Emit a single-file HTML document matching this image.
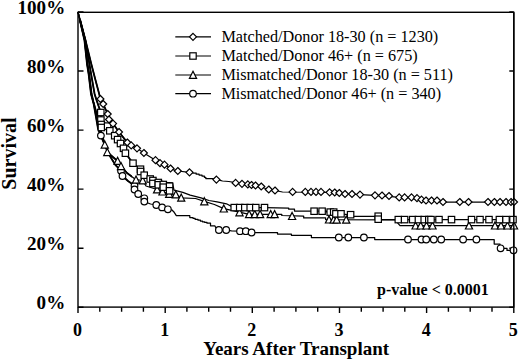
<!DOCTYPE html>
<html><head><meta charset="utf-8"><style>
html,body{margin:0;padding:0;background:#fff;width:520px;height:360px;overflow:hidden}
svg{display:block;font-family:"Liberation Serif",serif}
</style></head><body>
<svg width="520" height="360" viewBox="0 0 520 360"><g fill="none" stroke="#000" stroke-width="1.4">
<rect x="78.0" y="12.3" width="435.8" height="294.8"/>
<path d="M78.0 12.0H83.5M513.8 12.0H509.3M78.0 71.0H83.5M513.8 71.0H509.3M78.0 130.1H83.5M513.8 130.1H509.3M78.0 189.1H83.5M513.8 189.1H509.3M78.0 248.2H83.5M513.8 248.2H509.3M78.0 307.2H83.5M513.8 307.2H509.3M78.0 307.2V313.0M99.8 307.2V311.8M121.6 307.2V311.8M143.4 307.2V311.8M165.2 307.2V313.0M186.9 307.2V311.8M208.7 307.2V311.8M230.5 307.2V311.8M252.3 307.2V313.0M274.1 307.2V311.8M295.9 307.2V311.8M317.7 307.2V311.8M339.5 307.2V313.0M361.3 307.2V311.8M383.1 307.2V311.8M404.8 307.2V311.8M426.6 307.2V313.0M448.4 307.2V311.8M470.2 307.2V311.8M492.0 307.2V311.8M513.8 307.2V313.0"/>
</g>
<g fill="none" stroke="#000" stroke-width="1.25" stroke-linejoin="round">
<polyline points="78.0,12.0 84.4,40.0 87.0,64.0 88.6,74.0 91.0,94.0 93.7,104.0 98.1,129.0 100.9,135.6 103.0,141.0 109.7,155.7 115.6,165.2 121.0,170.7 122.5,176.0 128.0,181.0 134.5,185.7 134.5,189.5 138.2,194.0 144.3,198.3 144.3,201.6 150.6,204.0 156.3,205.0 162.1,207.4 167.9,209.3 171.7,209.8 173.7,211.7 176.3,215.7 189.8,215.7 189.8,217.6 193.0,217.6 193.0,218.3 195.1,218.3 195.1,219.3 198.0,219.3 198.0,220.2 200.4,220.2 200.4,221.0 202.5,221.0 202.5,221.8 204.7,221.8 204.7,222.4 207.0,222.4 207.0,223.2 210.5,223.2 210.5,225.8 214.8,225.8 216.0,228.0 218.9,230.0 226.2,230.0 231.5,230.8 240.0,231.2 245.8,231.2 251.6,232.5 277.5,232.6 277.5,234.1 291.4,234.1 291.4,235.3 311.4,235.3 311.4,237.5 374.7,237.5 374.7,239.5 494.2,239.5 494.2,244.1 500.0,244.1 500.0,248.4 507.0,248.4 507.0,250.4 514.0,250.4"/>
<polyline points="78.0,12.0 84.8,40.0 87.5,64.0 89.2,74.0 91.6,94.0 93.5,102.0 97.0,115.0 100.0,128.0 103.0,138.0 104.8,144.7 106.0,147.0 107.3,152.2 117.6,161.0 121.0,166.2 127.0,173.0 136.0,179.7 142.7,180.5 146.0,186.0 157.1,189.5 162.5,191.6 169.2,194.0 175.8,194.5 181.2,197.8 195.6,198.5 204.3,201.4 214.4,204.5 223.8,208.6 239.5,212.2 249.1,214.3 281.8,214.3 281.8,215.5 303.7,216.2 303.7,217.9 325.6,217.9 325.6,219.6 395.0,219.8 400.0,225.6 514.0,225.6"/>
<polyline points="78.0,12.0 85.3,40.0 88.7,60.0 91.1,74.0 94.6,94.0 96.5,100.0 100.8,112.5 101.2,120.0 107.6,126.1 109.8,130.8 114.7,135.7 117.6,139.6 120.5,143.5 123.5,148.3 125.4,153.2 133.0,163.2 140.5,169.2 140.5,171.5 144.2,175.2 150.2,176.5 152.5,179.0 156.2,180.0 160.4,180.8 166.7,182.4 172.5,182.8 174.0,190.2 182.8,192.4 190.2,195.1 201.0,197.8 209.0,200.5 217.1,201.8 226.5,203.8 233.7,207.6 265.4,207.6 288.7,208.1 288.7,209.2 294.5,209.2 294.5,211.1 326.7,211.2 326.7,212.1 336.0,212.1 340.0,213.8 348.0,214.7 352.0,216.4 378.0,216.4 380.0,219.6 514.0,219.6"/>
<polyline points="78.0,12.0 85.4,40.0 91.3,64.0 95.2,79.0 99.2,94.0 100.4,99.0 103.2,104.0 107.7,114.0 109.0,119.5 113.0,123.6 119.0,132.0 127.3,142.5 131.2,145.4 137.0,148.3 143.9,153.0 155.5,160.2 160.0,163.2 164.5,164.7 170.5,168.5 175.7,170.7 177.8,171.0 189.5,172.3 193.8,173.2 196.2,173.2 196.2,174.2 199.1,174.2 199.1,175.1 202.0,175.1 202.0,176.1 204.4,176.1 204.4,177.3 205.8,177.3 205.8,178.5 213.0,178.5 216.4,179.6 220.2,180.4 222.5,181.0 228.9,181.5 235.2,182.7 242.1,183.8 247.3,184.5 252.0,185.0 255.4,185.5 261.0,187.0 268.8,189.5 275.0,190.5 282.5,192.0 329.0,192.3 339.0,193.0 345.0,194.0 360.0,194.6 375.0,195.3 389.0,196.3 399.0,197.4 411.0,197.4 417.0,198.2 421.5,199.7 426.0,200.5 437.0,200.5 443.0,202.0 514.0,202.0"/>
</g>
<clipPath id="steep"><rect x="78" y="20" width="54.0" height="200"/></clipPath>
<g fill="none" stroke="#000" stroke-width="1.80" stroke-linejoin="round" clip-path="url(#steep)">
<polyline points="78.0,12.0 84.4,40.0 87.0,64.0 88.6,74.0 91.0,94.0 93.7,104.0 98.1,129.0 100.9,135.6 103.0,141.0 109.7,155.7 115.6,165.2 121.0,170.7 122.5,176.0 128.0,181.0 134.5,185.7 134.5,189.5 138.2,194.0 144.3,198.3 144.3,201.6 150.6,204.0 156.3,205.0 162.1,207.4 167.9,209.3 171.7,209.8 173.7,211.7 176.3,215.7 189.8,215.7 189.8,217.6 193.0,217.6 193.0,218.3 195.1,218.3 195.1,219.3 198.0,219.3 198.0,220.2 200.4,220.2 200.4,221.0 202.5,221.0 202.5,221.8 204.7,221.8 204.7,222.4 207.0,222.4 207.0,223.2 210.5,223.2 210.5,225.8 214.8,225.8 216.0,228.0 218.9,230.0 226.2,230.0 231.5,230.8 240.0,231.2 245.8,231.2 251.6,232.5 277.5,232.6 277.5,234.1 291.4,234.1 291.4,235.3 311.4,235.3 311.4,237.5 374.7,237.5 374.7,239.5 494.2,239.5 494.2,244.1 500.0,244.1 500.0,248.4 507.0,248.4 507.0,250.4 514.0,250.4"/>
<polyline points="78.0,12.0 84.8,40.0 87.5,64.0 89.2,74.0 91.6,94.0 93.5,102.0 97.0,115.0 100.0,128.0 103.0,138.0 104.8,144.7 106.0,147.0 107.3,152.2 117.6,161.0 121.0,166.2 127.0,173.0 136.0,179.7 142.7,180.5 146.0,186.0 157.1,189.5 162.5,191.6 169.2,194.0 175.8,194.5 181.2,197.8 195.6,198.5 204.3,201.4 214.4,204.5 223.8,208.6 239.5,212.2 249.1,214.3 281.8,214.3 281.8,215.5 303.7,216.2 303.7,217.9 325.6,217.9 325.6,219.6 395.0,219.8 400.0,225.6 514.0,225.6"/>
<polyline points="78.0,12.0 85.3,40.0 88.7,60.0 91.1,74.0 94.6,94.0 96.5,100.0 100.8,112.5 101.2,120.0 107.6,126.1 109.8,130.8 114.7,135.7 117.6,139.6 120.5,143.5 123.5,148.3 125.4,153.2 133.0,163.2 140.5,169.2 140.5,171.5 144.2,175.2 150.2,176.5 152.5,179.0 156.2,180.0 160.4,180.8 166.7,182.4 172.5,182.8 174.0,190.2 182.8,192.4 190.2,195.1 201.0,197.8 209.0,200.5 217.1,201.8 226.5,203.8 233.7,207.6 265.4,207.6 288.7,208.1 288.7,209.2 294.5,209.2 294.5,211.1 326.7,211.2 326.7,212.1 336.0,212.1 340.0,213.8 348.0,214.7 352.0,216.4 378.0,216.4 380.0,219.6 514.0,219.6"/>
<polyline points="78.0,12.0 85.4,40.0 91.3,64.0 95.2,79.0 99.2,94.0 100.4,99.0 103.2,104.0 107.7,114.0 109.0,119.5 113.0,123.6 119.0,132.0 127.3,142.5 131.2,145.4 137.0,148.3 143.9,153.0 155.5,160.2 160.0,163.2 164.5,164.7 170.5,168.5 175.7,170.7 177.8,171.0 189.5,172.3 193.8,173.2 196.2,173.2 196.2,174.2 199.1,174.2 199.1,175.1 202.0,175.1 202.0,176.1 204.4,176.1 204.4,177.3 205.8,177.3 205.8,178.5 213.0,178.5 216.4,179.6 220.2,180.4 222.5,181.0 228.9,181.5 235.2,182.7 242.1,183.8 247.3,184.5 252.0,185.0 255.4,185.5 261.0,187.0 268.8,189.5 275.0,190.5 282.5,192.0 329.0,192.3 339.0,193.0 345.0,194.0 360.0,194.6 375.0,195.3 389.0,196.3 399.0,197.4 411.0,197.4 417.0,198.2 421.5,199.7 426.0,200.5 437.0,200.5 443.0,202.0 514.0,202.0"/>
</g>
<g fill="#fff" stroke="#000" stroke-width="1.2">
<circle cx="100.9" cy="135.6" r="3.3"/>
<circle cx="121.0" cy="170.7" r="3.3"/>
<circle cx="122.5" cy="176.0" r="3.3"/>
<circle cx="134.5" cy="185.7" r="3.3"/>
<circle cx="134.5" cy="189.5" r="3.3"/>
<circle cx="138.2" cy="194.0" r="3.3"/>
<circle cx="144.3" cy="198.3" r="3.3"/>
<circle cx="144.3" cy="201.6" r="3.3"/>
<circle cx="156.3" cy="205.0" r="3.3"/>
<circle cx="162.1" cy="207.4" r="3.3"/>
<circle cx="167.9" cy="209.3" r="3.3"/>
<circle cx="218.9" cy="230.0" r="3.3"/>
<circle cx="226.2" cy="230.0" r="3.3"/>
<circle cx="240.0" cy="231.2" r="3.3"/>
<circle cx="245.8" cy="231.2" r="3.3"/>
<circle cx="251.6" cy="232.5" r="3.3"/>
<circle cx="338.8" cy="237.5" r="3.3"/>
<circle cx="348.3" cy="237.5" r="3.3"/>
<circle cx="363.9" cy="237.5" r="3.3"/>
<circle cx="408.0" cy="239.5" r="3.3"/>
<circle cx="421.5" cy="239.5" r="3.3"/>
<circle cx="426.2" cy="239.5" r="3.3"/>
<circle cx="433.8" cy="239.5" r="3.3"/>
<circle cx="441.2" cy="239.5" r="3.3"/>
<circle cx="463.1" cy="239.5" r="3.3"/>
<circle cx="476.4" cy="239.5" r="3.3"/>
<circle cx="500.6" cy="248.3" r="3.3"/>
<circle cx="513.5" cy="250.3" r="3.3"/>
<path d="M104.8 141.0L108.4 148.1L101.2 148.1Z"/>
<path d="M107.3 148.5L110.9 155.6L103.7 155.6Z"/>
<path d="M117.6 157.3L121.2 164.4L114.0 164.4Z"/>
<path d="M121.0 162.5L124.6 169.6L117.4 169.6Z"/>
<path d="M136.0 176.0L139.6 183.1L132.4 183.1Z"/>
<path d="M142.7 176.8L146.3 183.9L139.1 183.9Z"/>
<path d="M157.1 185.8L160.7 192.9L153.5 192.9Z"/>
<path d="M162.5 187.9L166.1 195.0L158.9 195.0Z"/>
<path d="M169.2 190.3L172.8 197.4L165.6 197.4Z"/>
<path d="M175.8 190.8L179.4 197.9L172.2 197.9Z"/>
<path d="M181.2 194.1L184.8 201.2L177.7 201.2Z"/>
<path d="M204.3 197.7L207.9 204.8L200.7 204.8Z"/>
<path d="M223.8 204.9L227.4 212.0L220.2 212.0Z"/>
<path d="M239.5 208.7L243.1 215.8L235.9 215.8Z"/>
<path d="M249.1 210.6L252.7 217.7L245.5 217.7Z"/>
<path d="M254.8 210.6L258.4 217.7L251.2 217.7Z"/>
<path d="M260.1 210.6L263.7 217.7L256.5 217.7Z"/>
<path d="M270.7 210.6L274.3 217.7L267.1 217.7Z"/>
<path d="M274.6 210.6L278.2 217.7L271.0 217.7Z"/>
<path d="M292.1 212.4L295.7 219.5L288.5 219.5Z"/>
<path d="M329.0 215.9L332.6 223.0L325.4 223.0Z"/>
<path d="M333.7 215.9L337.3 223.0L330.1 223.0Z"/>
<path d="M336.7 216.1L340.3 223.2L333.1 223.2Z"/>
<path d="M346.2 216.1L349.8 223.2L342.6 223.2Z"/>
<path d="M415.6 221.9L419.2 229.0L412.0 229.0Z"/>
<path d="M420.7 221.9L424.3 229.0L417.1 229.0Z"/>
<path d="M426.5 221.9L430.1 229.0L422.9 229.0Z"/>
<path d="M432.5 221.9L436.1 229.0L428.9 229.0Z"/>
<path d="M469.0 221.9L472.6 229.0L465.4 229.0Z"/>
<path d="M495.0 221.9L498.6 229.0L491.4 229.0Z"/>
<path d="M501.0 221.9L504.6 229.0L497.4 229.0Z"/>
<path d="M507.5 221.9L511.1 229.0L503.9 229.0Z"/>
<path d="M514.0 221.9L517.6 229.0L510.4 229.0Z"/>
<rect x="97.6" y="109.3" width="6.4" height="6.4"/>
<rect x="97.7" y="116.8" width="6.4" height="6.4"/>
<rect x="98.1" y="121.3" width="6.4" height="6.4"/>
<rect x="98.2" y="124.3" width="6.4" height="6.4"/>
<rect x="104.4" y="122.9" width="6.4" height="6.4"/>
<rect x="106.6" y="127.6" width="6.4" height="6.4"/>
<rect x="111.5" y="132.5" width="6.4" height="6.4"/>
<rect x="114.4" y="136.4" width="6.4" height="6.4"/>
<rect x="117.3" y="140.3" width="6.4" height="6.4"/>
<rect x="120.3" y="145.1" width="6.4" height="6.4"/>
<rect x="122.2" y="150.0" width="6.4" height="6.4"/>
<rect x="129.8" y="160.0" width="6.4" height="6.4"/>
<rect x="137.3" y="166.0" width="6.4" height="6.4"/>
<rect x="137.3" y="168.3" width="6.4" height="6.4"/>
<rect x="141.0" y="172.0" width="6.4" height="6.4"/>
<rect x="147.0" y="175.8" width="6.4" height="6.4"/>
<rect x="149.7" y="177.3" width="6.4" height="6.4"/>
<rect x="149.7" y="180.3" width="6.4" height="6.4"/>
<rect x="155.1" y="179.3" width="6.4" height="6.4"/>
<rect x="155.1" y="181.6" width="6.4" height="6.4"/>
<rect x="160.1" y="181.3" width="6.4" height="6.4"/>
<rect x="160.1" y="184.0" width="6.4" height="6.4"/>
<rect x="166.4" y="183.0" width="6.4" height="6.4"/>
<rect x="166.4" y="187.6" width="6.4" height="6.4"/>
<rect x="231.0" y="204.4" width="6.4" height="6.4"/>
<rect x="236.5" y="204.4" width="6.4" height="6.4"/>
<rect x="241.6" y="204.4" width="6.4" height="6.4"/>
<rect x="247.0" y="204.4" width="6.4" height="6.4"/>
<rect x="252.6" y="204.4" width="6.4" height="6.4"/>
<rect x="261.3" y="204.4" width="6.4" height="6.4"/>
<rect x="310.9" y="208.0" width="6.4" height="6.4"/>
<rect x="318.9" y="208.0" width="6.4" height="6.4"/>
<rect x="327.0" y="208.9" width="6.4" height="6.4"/>
<rect x="330.5" y="208.9" width="6.4" height="6.4"/>
<rect x="332.7" y="210.6" width="6.4" height="6.4"/>
<rect x="337.8" y="210.6" width="6.4" height="6.4"/>
<rect x="347.4" y="211.5" width="6.4" height="6.4"/>
<rect x="375.0" y="213.0" width="6.4" height="6.4"/>
<rect x="375.0" y="216.0" width="6.4" height="6.4"/>
<rect x="395.1" y="216.4" width="6.4" height="6.4"/>
<rect x="401.4" y="216.4" width="6.4" height="6.4"/>
<rect x="409.5" y="216.4" width="6.4" height="6.4"/>
<rect x="415.2" y="216.4" width="6.4" height="6.4"/>
<rect x="421.0" y="216.4" width="6.4" height="6.4"/>
<rect x="425.6" y="216.4" width="6.4" height="6.4"/>
<rect x="427.8" y="216.4" width="6.4" height="6.4"/>
<rect x="435.8" y="216.4" width="6.4" height="6.4"/>
<rect x="448.3" y="216.4" width="6.4" height="6.4"/>
<rect x="468.3" y="216.4" width="6.4" height="6.4"/>
<rect x="476.8" y="216.4" width="6.4" height="6.4"/>
<rect x="485.8" y="216.4" width="6.4" height="6.4"/>
<rect x="496.2" y="216.4" width="6.4" height="6.4"/>
<rect x="502.8" y="216.4" width="6.4" height="6.4"/>
<rect x="509.8" y="216.4" width="6.4" height="6.4"/>
<path d="M100.4 95.5L103.9 99.0L100.4 102.5L96.9 99.0Z"/>
<path d="M103.2 100.5L106.7 104.0L103.2 107.5L99.7 104.0Z"/>
<path d="M107.7 110.5L111.2 114.0L107.7 117.5L104.2 114.0Z"/>
<path d="M109.0 116.0L112.5 119.5L109.0 123.0L105.5 119.5Z"/>
<path d="M113.0 120.1L116.5 123.6L113.0 127.1L109.5 123.6Z"/>
<path d="M119.0 128.5L122.5 132.0L119.0 135.5L115.5 132.0Z"/>
<path d="M127.3 139.0L130.8 142.5L127.3 146.0L123.8 142.5Z"/>
<path d="M131.2 141.9L134.7 145.4L131.2 148.9L127.7 145.4Z"/>
<path d="M137.0 144.8L140.5 148.3L137.0 151.8L133.5 148.3Z"/>
<path d="M143.9 149.5L147.4 153.0L143.9 156.5L140.4 153.0Z"/>
<path d="M155.5 156.7L159.0 160.2L155.5 163.7L152.0 160.2Z"/>
<path d="M160.0 159.7L163.5 163.2L160.0 166.7L156.5 163.2Z"/>
<path d="M164.5 161.2L168.0 164.7L164.5 168.2L161.0 164.7Z"/>
<path d="M170.5 165.0L174.0 168.5L170.5 172.0L167.0 168.5Z"/>
<path d="M177.8 167.5L181.3 171.0L177.8 174.5L174.3 171.0Z"/>
<path d="M189.5 168.8L193.0 172.3L189.5 175.8L186.0 172.3Z"/>
<path d="M216.4 176.1L219.9 179.6L216.4 183.1L212.9 179.6Z"/>
<path d="M235.6 179.4L239.1 182.9L235.6 186.4L232.1 182.9Z"/>
<path d="M242.0 180.3L245.5 183.8L242.0 187.3L238.5 183.8Z"/>
<path d="M247.8 180.9L251.3 184.4L247.8 187.9L244.3 184.4Z"/>
<path d="M251.5 181.5L255.0 185.0L251.5 188.5L248.0 185.0Z"/>
<path d="M255.5 182.0L259.0 185.5L255.5 189.0L252.0 185.5Z"/>
<path d="M261.2 183.0L264.8 186.5L261.2 190.0L257.8 186.5Z"/>
<path d="M268.8 186.0L272.2 189.5L268.8 193.0L265.2 189.5Z"/>
<path d="M275.0 187.0L278.5 190.5L275.0 194.0L271.5 190.5Z"/>
<path d="M292.6 188.4L296.1 191.9L292.6 195.4L289.1 191.9Z"/>
<path d="M305.3 188.4L308.8 191.9L305.3 195.4L301.8 191.9Z"/>
<path d="M311.0 188.4L314.5 191.9L311.0 195.4L307.5 191.9Z"/>
<path d="M316.0 188.4L319.5 191.9L316.0 195.4L312.5 191.9Z"/>
<path d="M321.0 188.4L324.5 191.9L321.0 195.4L317.5 191.9Z"/>
<path d="M329.6 188.8L333.1 192.3L329.6 195.8L326.1 192.3Z"/>
<path d="M334.7 189.0L338.2 192.5L334.7 196.0L331.2 192.5Z"/>
<path d="M339.3 189.5L342.8 193.0L339.3 196.5L335.8 193.0Z"/>
<path d="M345.0 190.5L348.5 194.0L345.0 197.5L341.5 194.0Z"/>
<path d="M352.0 190.5L355.5 194.0L352.0 197.5L348.5 194.0Z"/>
<path d="M360.0 191.1L363.5 194.6L360.0 198.1L356.5 194.6Z"/>
<path d="M375.0 191.8L378.5 195.3L375.0 198.8L371.5 195.3Z"/>
<path d="M382.0 192.0L385.5 195.5L382.0 199.0L378.5 195.5Z"/>
<path d="M389.0 192.5L392.5 196.0L389.0 199.5L385.5 196.0Z"/>
<path d="M399.2 193.9L402.7 197.4L399.2 200.9L395.7 197.4Z"/>
<path d="M404.6 193.9L408.1 197.4L404.6 200.9L401.1 197.4Z"/>
<path d="M411.5 193.9L415.0 197.4L411.5 200.9L408.0 197.4Z"/>
<path d="M417.0 194.7L420.5 198.2L417.0 201.7L413.5 198.2Z"/>
<path d="M421.5 196.2L425.0 199.7L421.5 203.2L418.0 199.7Z"/>
<path d="M426.0 197.0L429.5 200.5L426.0 204.0L422.5 200.5Z"/>
<path d="M431.5 197.0L435.0 200.5L431.5 204.0L428.0 200.5Z"/>
<path d="M437.0 197.0L440.5 200.5L437.0 204.0L433.5 200.5Z"/>
<path d="M443.0 198.5L446.5 202.0L443.0 205.5L439.5 202.0Z"/>
<path d="M459.8 198.5L463.2 202.0L459.8 205.5L456.2 202.0Z"/>
<path d="M468.5 198.5L472.0 202.0L468.5 205.5L465.0 202.0Z"/>
<path d="M488.0 198.5L491.5 202.0L488.0 205.5L484.5 202.0Z"/>
<path d="M494.4 198.5L497.9 202.0L494.4 205.5L490.9 202.0Z"/>
<path d="M500.0 198.5L503.5 202.0L500.0 205.5L496.5 202.0Z"/>
<path d="M506.0 198.5L509.5 202.0L506.0 205.5L502.5 202.0Z"/>
<path d="M511.0 198.5L514.5 202.0L511.0 205.5L507.5 202.0Z"/>
<path d="M514.0 198.5L517.5 202.0L514.0 205.5L510.5 202.0Z"/>
</g>
<path d="M513.8 12.3V307.2" stroke="#000" stroke-width="1.4"/>
<g stroke="#000" stroke-width="1.2">
<path d="M175.3 36.8H211"/>
<path d="M175.3 56.0H211"/>
<path d="M175.3 75.0H211"/>
<path d="M175.3 93.7H211"/>
</g><g fill="#fff" stroke="#000" stroke-width="1.2">
<path d="M193.0 33.3L196.5 36.8L193.0 40.3L189.5 36.8Z"/>
<rect x="189.8" y="52.8" width="6.4" height="6.4"/>
<path d="M193.0 71.3L196.6 78.4L189.4 78.4Z"/>
<circle cx="193.0" cy="93.7" r="3.3"/>
</g>
<g font-family="Liberation Serif" font-size="16.2" fill="#000">
<text x="221.4" y="41.9">Matched/Donor 18-30 (n = 1230)</text>
<text x="221.4" y="61.2">Matched/Donor 46+ (n = 675)</text>
<text x="221.4" y="80.0">Mismatched/Donor 18-30 (n = 511)</text>
<text x="221.4" y="99.2">Mismatched/Donor 46+ (n = 340)</text>
</g>
<g font-family="Liberation Serif" font-weight="bold" font-size="18" fill="#000" text-anchor="end">
<text transform="translate(65.20 13.60) scale(1.060 1)">100%</text>
<text transform="translate(65.20 72.64) scale(1.060 1)">80%</text>
<text transform="translate(65.20 131.68) scale(1.060 1)">60%</text>
<text transform="translate(65.20 190.72) scale(1.060 1)">40%</text>
<text transform="translate(65.20 249.76) scale(1.060 1)">20%</text>
<text transform="translate(65.20 308.80) scale(1.060 1)">0%</text>
</g>
<g font-family="Liberation Serif" font-weight="bold" font-size="18" fill="#000" text-anchor="middle">
<text transform="translate(77.50 336.3) scale(1.000 1)">0</text>
<text transform="translate(164.66 336.3) scale(1.000 1)">1</text>
<text transform="translate(251.82 336.3) scale(1.000 1)">2</text>
<text transform="translate(338.98 336.3) scale(1.000 1)">3</text>
<text transform="translate(426.14 336.3) scale(1.000 1)">4</text>
<text transform="translate(513.30 336.3) scale(1.000 1)">5</text>
</g>
<text x="296.2" y="355.1" font-family="Liberation Serif" font-weight="bold" font-size="19" text-anchor="middle">Years After Transplant</text>
<text transform="translate(15.6 153.5) rotate(-90)" font-family="Liberation Serif" font-weight="bold" font-size="20" text-anchor="middle">Survival</text>
<text x="377" y="294.6" font-family="Liberation Serif" font-weight="bold" font-size="16">p-value &lt; 0.0001</text></svg>
</body></html>
